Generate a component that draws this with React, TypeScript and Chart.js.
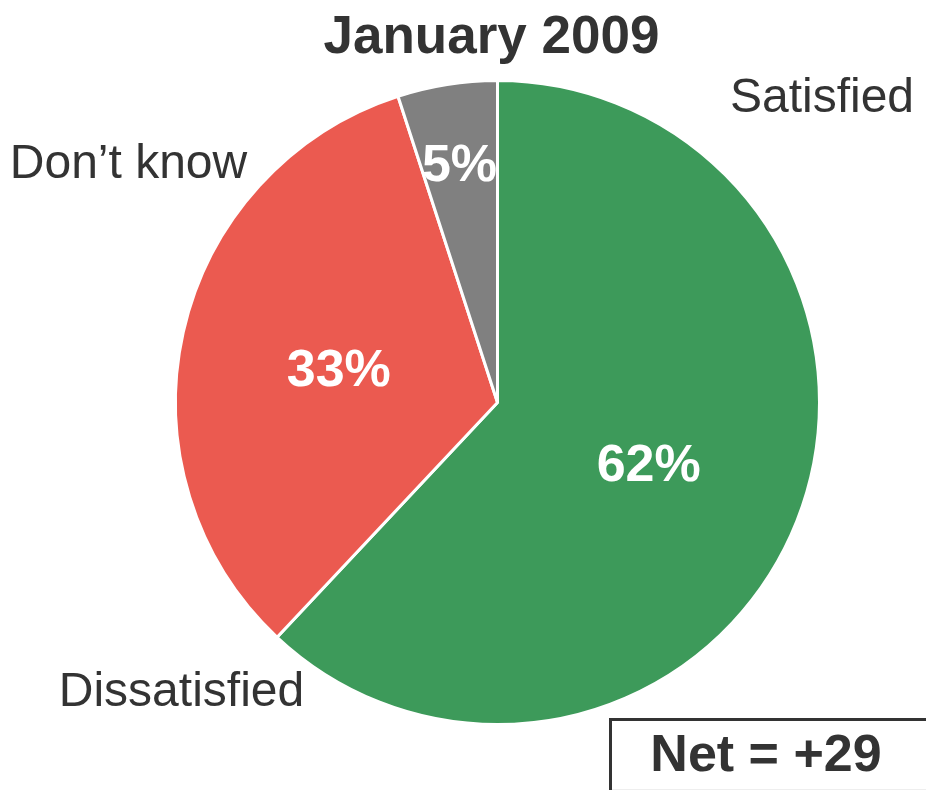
import React, { useEffect, useRef } from 'react';
import { Chart, registerables } from 'chart.js';

Chart.register(...registerables);

const categories = ['Satisfied', 'Dissatisfied', 'Don\u2019t know'];
const values = [62, 33, 5];
const sliceColors = ['#3d9a5a', '#eb5a50', '#808080'];
const chartTitle = 'January 2009';
const netLabel = 'Net = +29';

const FONT = '"Liberation Sans", Arial, Helvetica, sans-serif';
const TEXT = '#333333';

// offsets (from pie centre) for the outside category labels: [centreX, baseline]
const outsideOffsets: Record<string, [number, number]> = {
  'Satisfied': [324.5, -290.5],
  'Dissatisfied': [-316, 303.5],
  'Don\u2019t know': [-369, -224.5],
};

const annotate = {
  id: 'annotate',
  afterDraw(chart: any) {
    const ctx: CanvasRenderingContext2D = chart.ctx;
    const meta = chart.getDatasetMeta(0);
    const total = values.reduce((a, b) => a + b, 0);
    ctx.save();
    let cx = 0;
    let cy = 0;
    meta.data.forEach((arc: any, i: number) => {
      const p = arc.getProps(['x', 'y', 'startAngle', 'endAngle', 'outerRadius'], true);
      cx = p.x;
      cy = p.y;
      const mid = (p.startAngle + p.endAngle) / 2;
      const share = values[i] / total;
      const f = share < 0.1 ? 0.755 : 0.505;
      const px = p.x + Math.cos(mid) * p.outerRadius * f;
      const py = p.y + Math.sin(mid) * p.outerRadius * f;
      ctx.font = `bold 52px ${FONT}`;
      ctx.fillStyle = '#ffffff';
      ctx.textAlign = 'center';
      ctx.textBaseline = 'alphabetic';
      ctx.fillText(`${values[i]}%`, px, py + 52 * 0.358);
    });

    // outside labels
    ctx.font = `48px ${FONT}`;
    ctx.fillStyle = TEXT;
    ctx.textAlign = 'center';
    ctx.textBaseline = 'alphabetic';
    categories.forEach((c) => {
      const o = outsideOffsets[c];
      if (o) ctx.fillText(c, cx + o[0], cy + o[1]);
    });

    // title
    ctx.font = `bold 53px ${FONT}`;
    ctx.fillText(chartTitle, 491.5, 53);

    // net box
    ctx.fillStyle = '#ffffff';
    ctx.fillRect(610, 719, 330, 80);
    ctx.strokeStyle = '#eeeeee';
    ctx.lineWidth = 1;
    ctx.beginPath();
    ctx.moveTo(612, 789.5);
    ctx.lineTo(926, 789.5);
    ctx.stroke();
    ctx.strokeStyle = TEXT;
    ctx.lineWidth = 3;
    ctx.beginPath();
    ctx.moveTo(610.5, 795);
    ctx.lineTo(610.5, 719.5);
    ctx.lineTo(930, 719.5);
    ctx.stroke();
    ctx.font = `bold 52px ${FONT}`;
    ctx.fillStyle = TEXT;
    ctx.fillText(netLabel, 766, 771);
    ctx.restore();
  },
};

export default function App() {
  const ref = useRef<HTMLCanvasElement | null>(null);
  useEffect(() => {
    if (!ref.current) return;
    const chart = new Chart(ref.current, {
      type: 'pie',
      data: {
        labels: categories,
        datasets: [
          {
            data: values,
            backgroundColor: sliceColors,
            borderColor: '#ffffff',
            borderWidth: 3,
            radius: 322,
          } as any,
        ],
      },
      options: {
        responsive: false,
        animation: false,
        devicePixelRatio: 1,
        events: [],
        radius: 322,
        layout: { padding: { left: 69, right: 0, top: 15, bottom: 0 } },
        plugins: {
          legend: { display: false },
          tooltip: { enabled: false },
          title: { display: false },
        },
      } as any,
      plugins: [annotate],
    });
    return () => chart.destroy();
  }, []);
  return (
    <div style={{ position: 'fixed', left: 0, top: 0, width: 926, height: 790, background: '#fff' }}>
      <canvas ref={ref} width={926} height={790} style={{ display: 'block', width: 926, height: 790 }} />
    </div>
  );
}
